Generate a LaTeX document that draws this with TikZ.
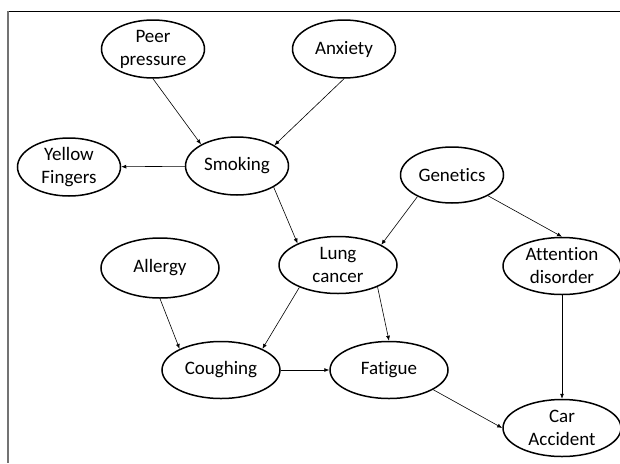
\documentclass[tikz,border=0pt]{standalone}
\usepackage{fontspec}
\setmainfont[Ligatures=CommonOff]{Carlito}
\usetikzlibrary{shapes.geometric, arrows.meta}

\begin{document}
\begin{tikzpicture}[
        x=1pt, y=-1pt,
        font=\fontsize{19}{23}\selectfont,
        factor/.style={
            ellipse,
            draw=black,
            line width=1.5pt,
            inner sep=0pt,
            align=center,
            minimum width=103pt,
            minimum height=58pt
        },
        widefactor/.style={
            factor,
            minimum width=118pt,
            minimum height=57pt
        },
        link/.style={
            -{Latex[length=5pt, width=4pt]},
            draw=black,
            line width=0.6pt
        }
    ]
    \useasboundingbox (0,0) rectangle (620,463);

    % Frame (top and left edges only)
    \draw[black, line width=0.8pt] (8,11) -- (620,11);
    \draw[black!55, line width=1.6pt] (8,11) -- (8,463);

    % Top row
    \node[factor] (peer) at (153,49) {Peer\\pressure};
    \node[factor] (anxiety) at (344,49) {Anxiety};

    % Second row
    \node[factor] (yellow) at (69,167) {Yellow\\Fingers};
    \node[factor] (smoking) at (237,166) {Smoking};
    \node[factor, minimum height=56pt] (genetics) at (452,175) {Genetics};

    % Third row
    \node[widefactor, minimum height=60pt] (allergy) at (160,268) {Allergy};
    \node[widefactor] (lung) at (338,265) {Lung\\cancer};
    \node[widefactor] (attention) at (562,266) {Attention\\disorder};

    % Bottom rows
    \node[widefactor] (coughing) at (221,370) {Coughing};
    \node[widefactor] (fatigue) at (389,370) {Fatigue};
    \node[widefactor] (car) at (562,428) {Car\\Accident};

    % Links
    \draw[link] (peer.south) -- (smoking.149);
    \draw[link] (anxiety.south) -- (smoking.29);
    \draw[link] (smoking) -- (yellow);
    \draw[link] (smoking.-30) -- (lung.152);
    \draw[link] (genetics.-148) -- (lung.25);
    \draw[link] (genetics.-30) -- (attention.north);
    \draw[link] (allergy.south) -- (coughing.153);
    \draw[link] (lung.-150) -- (coughing.27);
    \draw[link] (lung.-29) -- (fatigue.north);
    \draw[link] (coughing) -- (fatigue);
    \draw[link] (fatigue.-24) -- (car.west);
    \draw[link] (attention) -- (car);

\end{tikzpicture}
\end{document}
